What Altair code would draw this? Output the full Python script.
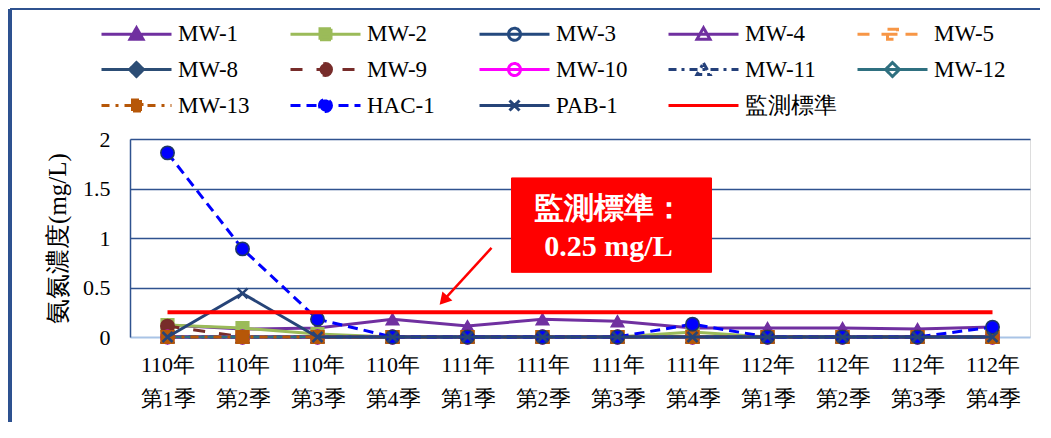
import altair as alt
import pandas as pd

# ---------------- data ----------------
quarters = ["110年第1季", "110年第2季", "110年第3季", "110年第4季",
            "111年第1季", "111年第2季", "111年第3季", "111年第4季",
            "112年第1季", "112年第2季", "112年第3季", "112年第4季"]

series_names = ["MW-1", "MW-2", "MW-3", "MW-4", "MW-5", "MW-8", "MW-9",
                "MW-10", "MW-11", "MW-12", "MW-13", "HAC-1", "PAB-1", "監測標準"]

mw1 = [0.12, 0.08, 0.09, 0.18, 0.11, 0.18, 0.16, 0.09, 0.09, 0.09, 0.08, 0.10]
mw2 = [0.12, 0.09, 0.03, 0.00, 0.00, 0.00, 0.00, 0.05, 0.00, 0.00, 0.00, 0.00]
mw3 = [0.00, 0.00, 0.00, 0.00, 0.00, 0.00, 0.00, 0.00, 0.00, 0.00, 0.00, 0.00]
mw4 = [0.00, 0.00, 0.00, 0.00, 0.00, 0.00, 0.00, 0.00, 0.00, 0.00, 0.00, 0.00]
mw5 = [0.00, 0.00, 0.00, 0.00, 0.00, 0.00, 0.00, 0.00, 0.00, 0.00, 0.00, 0.00]
mw8 = [0.00, 0.00, 0.00, 0.00, 0.00, 0.00, 0.00, 0.00, 0.00, 0.00, 0.00, 0.00]
mw9 = [0.11, 0.00, 0.00, 0.00, 0.00, 0.00, 0.00, 0.00, 0.00, 0.00, 0.00, 0.00]
mw10 = [0.00, 0.00, 0.00, 0.00, 0.00, 0.00, 0.00, 0.00, 0.00, 0.00, 0.00, 0.00]
mw11 = [0.00, 0.00, 0.00, 0.00, 0.00, 0.00, 0.00, 0.00, 0.00, 0.00, 0.00, 0.00]
mw12 = [0.00, 0.00, 0.00, 0.00, 0.00, 0.00, 0.00, 0.00, 0.00, 0.00, 0.00, 0.00]
mw13 = [0.00, 0.00, 0.00, 0.00, 0.00, 0.00, 0.00, 0.00, 0.00, 0.00, 0.00, 0.00]
hac1 = [1.86, 0.89, 0.18, 0.00, 0.00, 0.00, 0.00, 0.13, 0.00, 0.00, 0.00, 0.10]
pab1 = [0.00, 0.44, 0.00, 0.00, 0.00, 0.00, 0.00, 0.00, 0.00, 0.00, 0.00, 0.00]
standard = [0.25, 0.25, 0.25, 0.25, 0.25, 0.25, 0.25, 0.25, 0.25, 0.25, 0.25, 0.25]

series_values = [mw1, mw2, mw3, mw4, mw5, mw8, mw9, mw10, mw11, mw12, mw13,
                 hac1, pab1, standard]

y_ticks = [0, 0.5, 1, 1.5, 2]
y_title = "氨氮濃度(mg/L)"
note_lines = ["監測標準：", "0.25 mg/L"]
note_anchor = {"quarter": "111年第3季", "value": 1.13}
arrow = {"quarter": "111年第1季", "value": 0.90, "value2": 0.37}

# ---------------- styles ----------------
colors = {
    "MW-1": "#7030A0", "MW-2": "#9BBB59", "MW-3": "#24497E", "MW-4": "#7030A0",
    "MW-5": "#F79646", "MW-8": "#2C4D75", "MW-9": "#772C2A", "MW-10": "#FF00FF",
    "MW-11": "#24407A", "MW-12": "#2F7080", "MW-13": "#B65708", "HAC-1": "#0000FF",
    "PAB-1": "#264478", "監測標準": "#FF0000",
}
dashes = {
    "MW-5": [12, 12], "MW-9": [12, 14], "MW-11": [8, 5, 3, 5],
    "MW-13": [8, 6, 3, 6], "HAC-1": [10, 6],
}
markers = {
    "MW-1": ("tri", True), "MW-2": ("sq", True), "MW-3": ("circ", False),
    "MW-4": ("tri", False), "MW-5": ("sqline", False), "MW-8": ("dia", True),
    "MW-9": ("circ", True), "MW-10": ("circ", False), "MW-11": ("tri", False),
    "MW-12": ("dia", False), "MW-13": ("sq", True), "HAC-1": ("circ", True),
    "PAB-1": ("x", False), "監測標準": (None, False),
}
plot_shapes = {
    "tri": "triangle-up", "sq": "square", "circ": "circle", "dia": "diamond",
    "sqline": "M-1,-1H1V1H-1Z M-1,0H1", "x": "M-1,-1L1,1M-1,1L1,-1",
}
legend_marks = {
    "tri": "M0,-0.65L0.65,0.5L-0.65,0.5Z",
    "sq": "M-0.55,-0.55H0.55V0.55H-0.55Z",
    "circ": "M0.6,0A0.6,0.6 0 1,1 -0.6,0A0.6,0.6 0 1,1 0.6,0Z",
    "dia": "M0,-0.7L0.7,0L0,0.7L-0.7,0Z",
    "sqline": "M-0.5,-0.5H0.5V0.5H-0.5Z M-0.5,0H0.5",
    "x": "M-0.5,-0.5L0.5,0.5M-0.5,0.5L0.5,-0.5",
}
LINE = "M-3.5,0H3.5"

SERIF = "Liberation Serif"
GRID = "#2F528F"
BASE = "#A9C4E6"
FRAME = "#2F528F"

# ---------------- table ----------------
rows = []
for name, vals in zip(series_names, series_values):
    for q, v in zip(quarters, vals):
        rows.append({"series": name, "quarter": q, "value": v})
df = pd.DataFrame(rows)

# ---------------- scales for the legend ----------------
legend_shapes, legend_fills, legend_dashes = [], [], []
for s in series_names:
    kind, filled = markers[s]
    legend_shapes.append(LINE + (" " + legend_marks[kind] if kind else ""))
    legend_fills.append(colors[s] if filled else ("#FFFFFF" if kind else "transparent"))
    legend_dashes.append(dashes.get(s, [1, 0]))

legend = alt.Legend(
    orient="none", legendX=-28, legendY=-117, columns=5, title=None,
    direction="horizontal", gridAlign="all", padding=0,
    symbolSize=400, symbolOffset=23, labelOffset=30, symbolStrokeWidth=3,
    symbolOpacity=1,
    columnPadding=14, rowPadding=9,
    labelFont=SERIF, labelFontSize=23, labelColor="#000000", labelLimit=200,
)

x_enc = alt.X(
    "quarter:O", sort=quarters,
    scale=alt.Scale(domain=quarters, type="point", padding=0.5),
    axis=alt.Axis(
        title=None, labelAngle=0, ticks=False, labelFont=SERIF, labelFontSize=22,
        labelColor="#000000", labelLineHeight=34, labelPadding=17,
        labelExpr="[slice(datum.label, 0, 4), slice(datum.label, 4)]",
        domainColor=BASE, domainWidth=2, grid=False,
    ),
)
y_enc = alt.Y(
    "value:Q", scale=alt.Scale(domain=[0, 2], nice=False, zero=True),
    axis=alt.Axis(
        title=y_title, values=y_ticks, format=".1~f", ticks=False,
        labelFont=SERIF, labelFontSize=22, labelColor="#000000", labelPadding=20,
        titleFont=SERIF, titleFontSize=25, titleFontWeight="normal",
        titleColor="#000000", titlePadding=12,
        domainColor=GRID, domainWidth=1.5,
        grid=True, gridWidth=1.5,
        gridColor={"condition": {"test": "datum.value === 0", "value": "transparent"},
                   "value": GRID},
    ),
)

base = alt.Chart(df)
layers = []

# chart frame (left and top border of the whole figure)
frame_left = alt.Chart(df).mark_rule(color=FRAME, strokeWidth=2.5).encode(
    x=alt.value(-120), y=alt.value(-130), y2=alt.value(330))
frame_top = alt.Chart(df).mark_rule(color=FRAME, strokeWidth=2).encode(
    x=alt.value(-120), x2=alt.value(930), y=alt.value(-130))
layers += [frame_left, frame_top]

# legend-only layer (no rows drawn, legend built from the scales' domains)
legend_layer = base.transform_filter("false").mark_point(opacity=1).encode(
    x=x_enc, y=y_enc,
    shape=alt.Shape("series:N", scale=alt.Scale(domain=series_names, range=legend_shapes),
                    legend=legend),
    stroke=alt.Stroke("series:N", scale=alt.Scale(domain=series_names,
                                                  range=[colors[s] for s in series_names]),
                      legend=legend),
    fill=alt.Fill("series:N", scale=alt.Scale(domain=series_names, range=legend_fills),
                  legend=legend),
    strokeDash=alt.StrokeDash("series:N", scale=alt.Scale(domain=series_names,
                                                          range=legend_dashes),
                              legend=legend),
)
layers.append(legend_layer)

for s in series_names:
    sub = base.transform_filter(alt.datum.series == s)
    kw = {}
    if s in dashes:
        kw["strokeDash"] = dashes[s]
    layers.append(
        sub.mark_line(strokeWidth=4 if s == "監測標準" else 3, color=colors[s], **kw)
        .encode(x=x_enc, y=y_enc)
    )
    kind, filled = markers[s]
    if kind:
        if kind == "x":
            pm = sub.mark_point(shape=plot_shapes[kind], size=100, filled=False,
                                stroke=colors[s], strokeWidth=2.5, opacity=1)
        else:
            pm = sub.mark_point(
                shape=plot_shapes[kind],
                size=180 if kind == "circ" else 160,
                filled=True,
                fill=colors[s] if filled else "#FFFFFF",
                stroke="#1F3864" if s == "HAC-1" else colors[s],
                strokeWidth=1.5, opacity=1,
            )
        layers.append(pm.encode(x=x_enc, y=y_enc))

# ---------------- annotation ----------------
note_df = pd.DataFrame([note_anchor])
box = alt.Chart(note_df).mark_point(
    shape="M-1,-0.472H1V0.472H-1Z", size=40000, filled=True, fill="#FF0000",
    stroke="#FF0000", strokeWidth=1, opacity=1, xOffset=-6,
).encode(x=x_enc, y=y_enc)
note = alt.Chart(note_df).mark_text(
    text=note_lines, font=SERIF, fontSize=30, fontWeight="bold", color="#FFFFFF",
    lineHeight=38, align="center", baseline="middle", xOffset=-9, yOffset=-16,
).encode(x=x_enc, y=y_enc)

arrow_df = pd.DataFrame([arrow])
arrow_line = alt.Chart(arrow_df).mark_rule(
    color="#FF0000", strokeWidth=2.5, xOffset=24, x2Offset=-24,
).encode(x=x_enc, x2="quarter:O", y=y_enc, y2="value2:Q")
arrow_head = alt.Chart(arrow_df).mark_point(
    shape="triangle-up", size=180, filled=True, fill="#FF0000", opacity=1,
    angle=222, xOffset=-24,
).encode(x=x_enc, y=alt.Y("value2:Q"))

chart = alt.layer(*layers, box, note, arrow_line, arrow_head).properties(
    width=900, height=198,
    padding={"left": 122, "top": 131, "right": 10, "bottom": 85},
    autosize=alt.AutoSizeParams(type="none"),
).configure_view(stroke=None).configure(background="#FFFFFF")

chart.save("out.html", embed_options={"renderer": "svg", "actions": False})
